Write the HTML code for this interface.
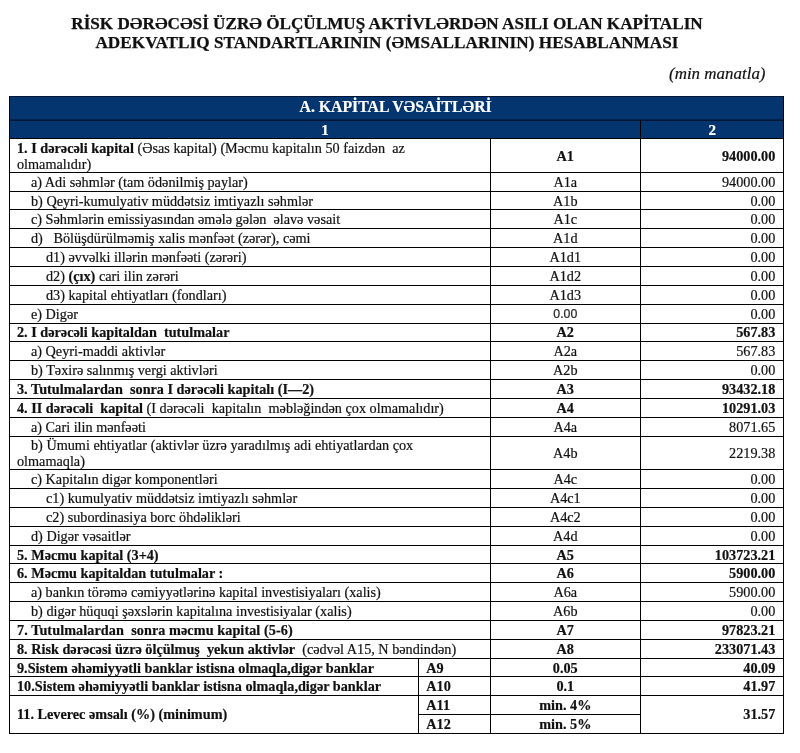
<!DOCTYPE html>
<html><head><meta charset="utf-8">
<style>
html,body{margin:0;padding:0;background:#fff;}
body{width:800px;height:753px;position:relative;overflow:hidden;font-family:"Liberation Serif",serif;color:#111;}
.title{position:absolute;left:0;width:774px;top:14px;text-align:center;font-weight:bold;font-size:17.15px;line-height:19.4px;-webkit-text-stroke:0.25px #111;}
.unit{position:absolute;right:34.5px;top:64px;font-style:italic;font-size:16.95px;-webkit-text-stroke:0.2px #111;}
table{position:absolute;left:9px;top:96px;width:774.3px;border-collapse:collapse;table-layout:fixed;font-size:14.22px;-webkit-text-stroke:0.2px #111;}
td{border:1px solid #000;padding:1px 0 0 0;height:16.85px;line-height:15px;vertical-align:middle;overflow:hidden;white-space:nowrap;}
tr.h td{background:#04356f;color:#fff;font-weight:bold;text-align:center;border-color:#021534 #000 #000 #000;-webkit-text-stroke:0.2px #fff;}
tr.h1 td{border-bottom-color:#021534;box-shadow:inset 0 -1px 0 rgba(2,18,48,0.5);}
tr.h2 td{border-top-color:#021534;}
tr.h1 td{height:21.7px;font-size:15.77px;}
tr.h1 td span{position:relative;top:-2.5px;left:-1px;}
tr.h2 td{height:16.7px;font-size:15px;}
tr.h2 td span{position:relative;top:0.9px;}
td.c{text-align:center;}
td.r{text-align:right;padding-right:8px;}
td.l{padding-left:7px;}
td.i1{padding-left:21px;}
td.i2{padding-left:36px;}
tr.b td{font-weight:bold;}
tr.b td span{font-weight:normal;}
tr.z td{height:16.72px;}
td.w{white-space:normal;}
td.sans{font-family:"Liberation Sans",sans-serif;font-size:12.3px;color:#2a2a2a;}
td.sans span{position:relative;top:0.5px;}
</style></head><body>
<div id="wrap" style="position:absolute;left:0;top:0;width:800px;height:753px;will-change:transform;">
<div class="title">RİSK DƏRƏCƏSİ ÜZRƏ ÖLÇÜLMUŞ AKTİVLƏRDƏN ASILI OLAN KAPİTALIN<br><span style="letter-spacing:0.055px">ADEKVATLIQ STANDARTLARININ (ƏMSALLARININ) HESABLANMASI</span></div>
<div class="unit">(min manatla)</div>
<table>
<colgroup><col style="width:409.3px"><col style="width:71.3px"><col style="width:150.4px"><col style="width:143.3px"></colgroup>
<tr class="h h1"><td colspan="4"><span>A. KAPİTAL VƏSAİTLƏRİ</span></td></tr>
<tr class="h h2"><td colspan="3"><span>1</span></td><td><span>2</span></td></tr>
<tr class="b"><td colspan="2" class="l w" style="height:32.4px;line-height:16px;padding:0 0 0 7px"><div style="position:relative;top:0.2px"><b>1. I dərəcəli kapital</b> <span>(Əsas kapital) (Məcmu kapitalın 50 faizdən&nbsp; az<br>olmamalıdır)</span></div></td><td class="c">A1</td><td class="r">94000.00</td></tr>
<tr><td colspan="2" class="i1">a) Adi səhmlər (tam ödənilmiş paylar)</td><td class="c">A1a</td><td class="r">94000.00</td></tr>
<tr><td colspan="2" class="i1">b) Qeyri-kumulyativ müddətsiz imtiyazlı səhmlər</td><td class="c">A1b</td><td class="r">0.00</td></tr>
<tr><td colspan="2" class="i1">c) Səhmlərin emissiyasından əmələ gələn&nbsp; əlavə vəsait</td><td class="c">A1c</td><td class="r">0.00</td></tr>
<tr><td colspan="2" class="i1">d)&nbsp;&nbsp; Bölüşdürülməmiş xalis mənfəət (zərər), cəmi</td><td class="c">A1d</td><td class="r">0.00</td></tr>
<tr><td colspan="2" class="i2">d1) əvvəlki illərin mənfəəti (zərəri)</td><td class="c">A1d1</td><td class="r">0.00</td></tr>
<tr><td colspan="2" class="i2">d2) <b>(çıx)</b> cari ilin zərəri</td><td class="c">A1d2</td><td class="r">0.00</td></tr>
<tr><td colspan="2" class="i2">d3) kapital ehtiyatları (fondları)</td><td class="c">A1d3</td><td class="r">0.00</td></tr>
<tr><td colspan="2" class="i1">e) Digər</td><td class="c sans"><span>0.00</span></td><td class="r">0.00</td></tr>
<tr class="b"><td colspan="2" class="l">2. I dərəcəli kapitaldan&nbsp; tutulmalar</td><td class="c">A2</td><td class="r">567.83</td></tr>
<tr><td colspan="2" class="i1">a) Qeyri-maddi aktivlər</td><td class="c">A2a</td><td class="r">567.83</td></tr>
<tr><td colspan="2" class="i1">b) Təxirə salınmış vergi aktivləri</td><td class="c">A2b</td><td class="r">0.00</td></tr>
<tr class="b"><td colspan="2" class="l">3. Tutulmalardan&nbsp; sonra I dərəcəli kapitalı (I—2)</td><td class="c">A3</td><td class="r">93432.18</td></tr>
<tr class="b"><td colspan="2" class="l">4. II dərəcəli&nbsp; kapital <span>(I dərəcəli&nbsp; kapitalın&nbsp; məbləğindən çox olmamalıdır)</span></td><td class="c">A4</td><td class="r">10291.03</td></tr>
<tr><td colspan="2" class="i1">a) Cari ilin mənfəəti</td><td class="c">A4a</td><td class="r">8071.65</td></tr>
<tr><td colspan="2" class="l w" style="height:32.65px;text-indent:14px;line-height:16px;padding:0 0 0 7px">b) Ümumi ehtiyatlar (aktivlər üzrə yaradılmış adi ehtiyatlardan çox<br>olmamaqla)</td><td class="c">A4b</td><td class="r">2219.38</td></tr>
<tr><td colspan="2" class="i1">c) Kapitalın digər komponentləri</td><td class="c">A4c</td><td class="r">0.00</td></tr>
<tr><td colspan="2" class="i2">c1) kumulyativ müddətsiz imtiyazlı səhmlər</td><td class="c">A4c1</td><td class="r">0.00</td></tr>
<tr><td colspan="2" class="i2">c2) subordinasiya borc öhdəlikləri</td><td class="c">A4c2</td><td class="r">0.00</td></tr>
<tr><td colspan="2" class="i1">d) Digər vəsaitlər</td><td class="c">A4d</td><td class="r">0.00</td></tr>
<tr class="b"><td colspan="2" class="l">5. Məcmu kapital (3+4)</td><td class="c">A5</td><td class="r">103723.21</td></tr>
<tr class="b"><td colspan="2" class="l">6. Məcmu kapitaldan tutulmalar :</td><td class="c">A6</td><td class="r">5900.00</td></tr>
<tr><td colspan="2" class="i1">a) bankın törəmə cəmiyyətlərinə kapital investisiyaları (xalis)</td><td class="c">A6a</td><td class="r">5900.00</td></tr>
<tr><td colspan="2" class="i1">b) digər hüquqi şəxslərin kapitalına investisiyalar (xalis)</td><td class="c">A6b</td><td class="r">0.00</td></tr>
<tr class="b"><td colspan="2" class="l" style="letter-spacing:0.065px">7. Tutulmalardan&nbsp; sonra məcmu kapital (5-6)</td><td class="c">A7</td><td class="r">97823.21</td></tr>
<tr class="b"><td colspan="2" class="l">8. Risk dərəcəsi üzrə ölçülmuş&nbsp; yekun aktivlər&nbsp; <span>(cədvəl A15, N bəndindən)</span></td><td class="c">A8</td><td class="r">233071.43</td></tr>
<tr class="b z"><td class="l">9.Sistem əhəmiyyətli banklar istisna olmaqla,digər banklar</td><td class="l">A9</td><td class="c">0.05</td><td class="r">40.09</td></tr>
<tr class="b z"><td class="l">10.Sistem əhəmiyyətli banklar istisna olmaqla,digər banklar</td><td class="l">A10</td><td class="c">0.1</td><td class="r">41.97</td></tr>
<tr class="b z"><td class="l" rowspan="2">11. Leverec əmsalı (%) (minimum)</td><td class="l">A11</td><td class="c">min. 4%</td><td class="r" rowspan="2">31.57</td></tr>
<tr class="b z"><td class="l">A12</td><td class="c">min. 5%</td></tr>
</table>
</div>
</body></html>
